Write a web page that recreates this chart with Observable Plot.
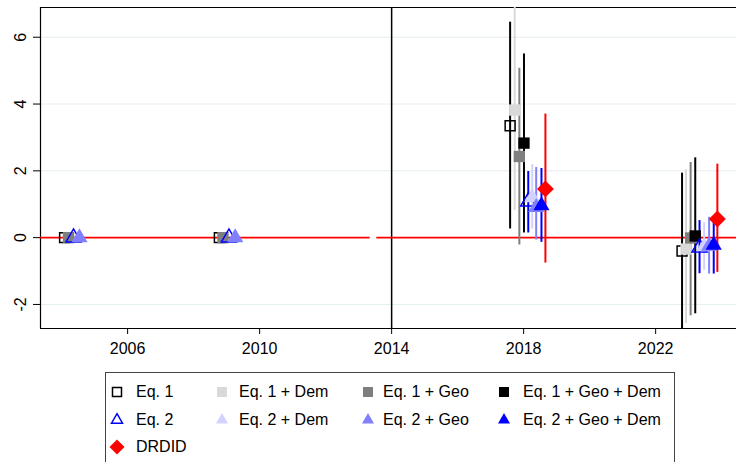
<!DOCTYPE html>
<html>
<head>
<meta charset="utf-8">
<script src="https://cdn.jsdelivr.net/npm/d3@7"></script>
<script src="https://cdn.jsdelivr.net/npm/@observablehq/plot@0.6"></script>
<style>
  html, body { margin: 0; padding: 0; background: white; }
  #wrap { position: relative; width: 736px; height: 462px; overflow: hidden; font-family: 'Liberation Sans', Arial, sans-serif; }
  #legend { position: absolute; box-sizing: border-box; border: 1px solid #444; background: white; }
  .lt { position: absolute; font-size: 16px; line-height: 1; transform: translateY(-50%); white-space: nowrap; color: #000; }
  .li { position: absolute; overflow: visible; }
</style>
</head>
<body>
<div id="wrap"><div id="chart"></div><div id="legend"></div></div>
<script>
// ---------------- data ----------------
const series = ["Eq. 1", "Eq. 1 + Dem", "Eq. 1 + Geo", "Eq. 1 + Geo + Dem",
                "Eq. 2", "Eq. 2 + Dem", "Eq. 2 + Geo", "Eq. 2 + Geo + Dem", "DRDID"];

// pre-period estimates (reference, no CI); null = not shown
const xPre1   = [2004.09, null, 2004.21, null, 2004.36, null, 2004.54, null, null];
const xPre2   = [2008.78, null, 2008.89, null, 2009.07, null, 2009.26, null, null];
const estPre  = [0, null, 0, null, 0, null, 0, null, null];

// first post period (around 2018)
const xPost1   = [2017.59, 2017.73, 2017.87, 2018.01, 2018.14, 2018.26, 2018.38, 2018.54, 2018.66];
const estPost1 = [3.35, 3.82, 2.43, 2.83, 1.08, 1.20, 0.91, 0.96, 1.46];
const loPost1  = [0.26, 0.81, -0.22, 0.14, 0.14, 0.26, -0.07, -0.14, -0.76];
const hiPost1  = [6.45, 6.95, 5.07, 5.50, 1.98, 2.19, 2.10, 2.07, 3.70];

// second post period (around 2023)
const xPost2   = [2022.80, 2022.92, 2023.06, 2023.20, 2023.33, 2023.47, 2023.62, 2023.76, 2023.87];
const estPost2 = [-0.40, -0.34, -0.01, 0.05, -0.30, -0.27, -0.25, -0.22, 0.56];
const loPost2  = [-2.90, -2.57, -2.34, -2.28, -1.08, -0.98, -1.09, -1.09, -1.04];
const hiPost2  = [1.93, 2.03, 2.25, 2.39, 0.51, 0.45, 0.61, 0.56, 2.20];

const xTicks = [2006, 2010, 2014, 2018, 2022];
const yTicks = [-2, 0, 2, 4, 6];
const xDomain = [2003.36, 2024.45];
const yDomain = [-2.72, 6.89];
const treatYear = 2014;
const zeroSegments = [[2003.36, 2013.35], [2013.55, 2024.45]];

// ---------------- styles ----------------
const style = {
  "Eq. 1":             {symbol: "square",   fill: "none",    stroke: "#000", ci: "#000",    r: 5.6, hollow: true},
  "Eq. 1 + Dem":       {symbol: "square",   fill: "#d9d9d9", stroke: "none", ci: "#d9d9d9", r: 6.4},
  "Eq. 1 + Geo":       {symbol: "square",   fill: "#7f7f7f", stroke: "none", ci: "#7f7f7f", r: 6.4},
  "Eq. 1 + Geo + Dem": {symbol: "square",   fill: "#000",    stroke: "none", ci: "#000",    r: 6.4},
  "Eq. 2":             {symbol: "triangle", fill: "none",    stroke: "#0000ff", ci: "#0000ff", r: 5.6, hollow: true},
  "Eq. 2 + Dem":       {symbol: "triangle", fill: "#d2d2ff", stroke: "none", ci: "#d2d2ff", r: 6.0},
  "Eq. 2 + Geo":       {symbol: "triangle", fill: "#8080ff", stroke: "none", ci: "#8080ff", r: 6.0},
  "Eq. 2 + Geo + Dem": {symbol: "triangle", fill: "#0000ff", stroke: "none", ci: "#0000ff", r: 6.0},
  "DRDID":             {symbol: "diamond2", fill: "#ff0000", stroke: "none", ci: "#ff0000", r: 7.6}
};

// ---------------- build rows ----------------
const rows = [];
function addGroup(xs, est, lo, hi) {
  series.forEach((s, i) => {
    if (xs[i] == null || est[i] == null) return;
    rows.push({series: s, x: xs[i], est: est[i], lo: lo ? lo[i] : null, hi: hi ? hi[i] : null});
  });
}
addGroup(xPre1, estPre, null, null);
addGroup(xPre2, estPre, null, null);
addGroup(xPost1, estPost1, loPost1, hiPost1);
addGroup(xPost2, estPost2, loPost2, hiPost2);

const ciMarks = series.map(s => Plot.ruleX(rows.filter(d => d.series === s && d.lo != null), {
  x: "x", y1: "lo", y2: "hi", stroke: style[s].ci, strokeWidth: 2, clip: true
}));
const dotMarks = series.map(s => Plot.dot(rows.filter(d => d.series === s), {
  x: "x", y: "est", symbol: style[s].symbol, r: style[s].r,
  fill: style[s].fill, stroke: style[s].stroke, strokeWidth: style[s].hollow ? 1.5 : 0
}));

const plot = Plot.plot({
  width: 736,
  height: 365,
  marginLeft: 40,
  marginRight: 0,
  marginTop: 7,
  marginBottom: 37,
  style: {fontFamily: "'Liberation Sans', Arial, sans-serif", fontSize: "16px", color: "#000", background: "white", overflow: "visible"},
  x: {domain: xDomain, ticks: xTicks, tickFormat: d => String(d), tickSize: 6, tickPadding: 8, label: null},
  y: {domain: yDomain, ticks: yTicks, tickSize: 7, tickFormat: () => "", label: null},
  marks: [
    Plot.ruleY(yTicks.filter(d => d !== 0), {stroke: "#e4eef0", strokeWidth: 1}),
    Plot.ruleX([xDomain[0]], {stroke: "#000", strokeWidth: 1.2}),
    Plot.ruleY([yDomain[0], yDomain[1]], {stroke: "#000", strokeWidth: 1.2}),
    Plot.ruleX([treatYear], {stroke: "#000", strokeWidth: 1.5}),
    Plot.ruleY(zeroSegments, {y: () => 0, x1: d => d[0], x2: d => d[1], stroke: "#ff0000", strokeWidth: 1.6}),
    ...ciMarks,
    ...dotMarks,
    Plot.text(yTicks, {y: d => d, text: d => String(d), frameAnchor: "left", dx: -20, rotate: -90,
      textAnchor: "middle", lineAnchor: "middle", fontSize: 16, fill: "#000"})
  ]
});
document.getElementById("chart").appendChild(plot);

// ---------------- legend ----------------
const legendBox = {left: 105, top: 372, width: 570, height: 110};
const legendCols = [117, 222, 368, 504];
const legendTextX = [136, 239, 383, 523];
const legendRows = [392, 419.5, 447];
const lg = document.getElementById("legend");
Object.assign(lg.style, {left: legendBox.left + "px", top: legendBox.top + "px",
  width: legendBox.width + "px", height: legendBox.height + "px"});

function iconPath(sym, w) {
  if (sym === "square") { const h = w / 2; return `M${-h},${-h}H${h}V${h}H${-h}Z`; }
  if (sym === "triangle") { const h = w * 0.866; return `M0,${-h * 2 / 3}L${w / 2},${h / 3}L${-w / 2},${h / 3}Z`; }
  const h = w / 2; return `M0,${-h}L${h},0L0,${h}L${-h},0Z`;
}
series.forEach((s, i) => {
  const col = i < 8 ? i % 4 : 0;
  const row = i < 4 ? 0 : (i < 8 ? 1 : 2);
  const cx = legendCols[col] - legendBox.left - 1;
  const cy = legendRows[row] - legendBox.top - 1;
  const st = style[s];
  const w = st.symbol === "square" ? (st.hollow ? 9 : 10) : st.symbol === "triangle" ? (st.hollow ? 11 : 12) : 15;
  const svg = d3.create("svg").attr("class", "li").attr("width", 20).attr("height", 20)
    .style("left", (cx - 10) + "px").style("top", (cy - 10) + "px");
  svg.append("path").attr("transform", "translate(10,10)").attr("d", iconPath(st.symbol, w))
    .attr("fill", st.fill).attr("stroke", st.hollow ? st.stroke : "none").attr("stroke-width", 1.5);
  lg.appendChild(svg.node());
  const t = document.createElement("div");
  t.className = "lt";
  t.textContent = s;
  t.style.left = (legendTextX[col] - legendBox.left - 1) + "px";
  t.style.top = cy + "px";
  lg.appendChild(t);
});
</script>
</body>
</html>
